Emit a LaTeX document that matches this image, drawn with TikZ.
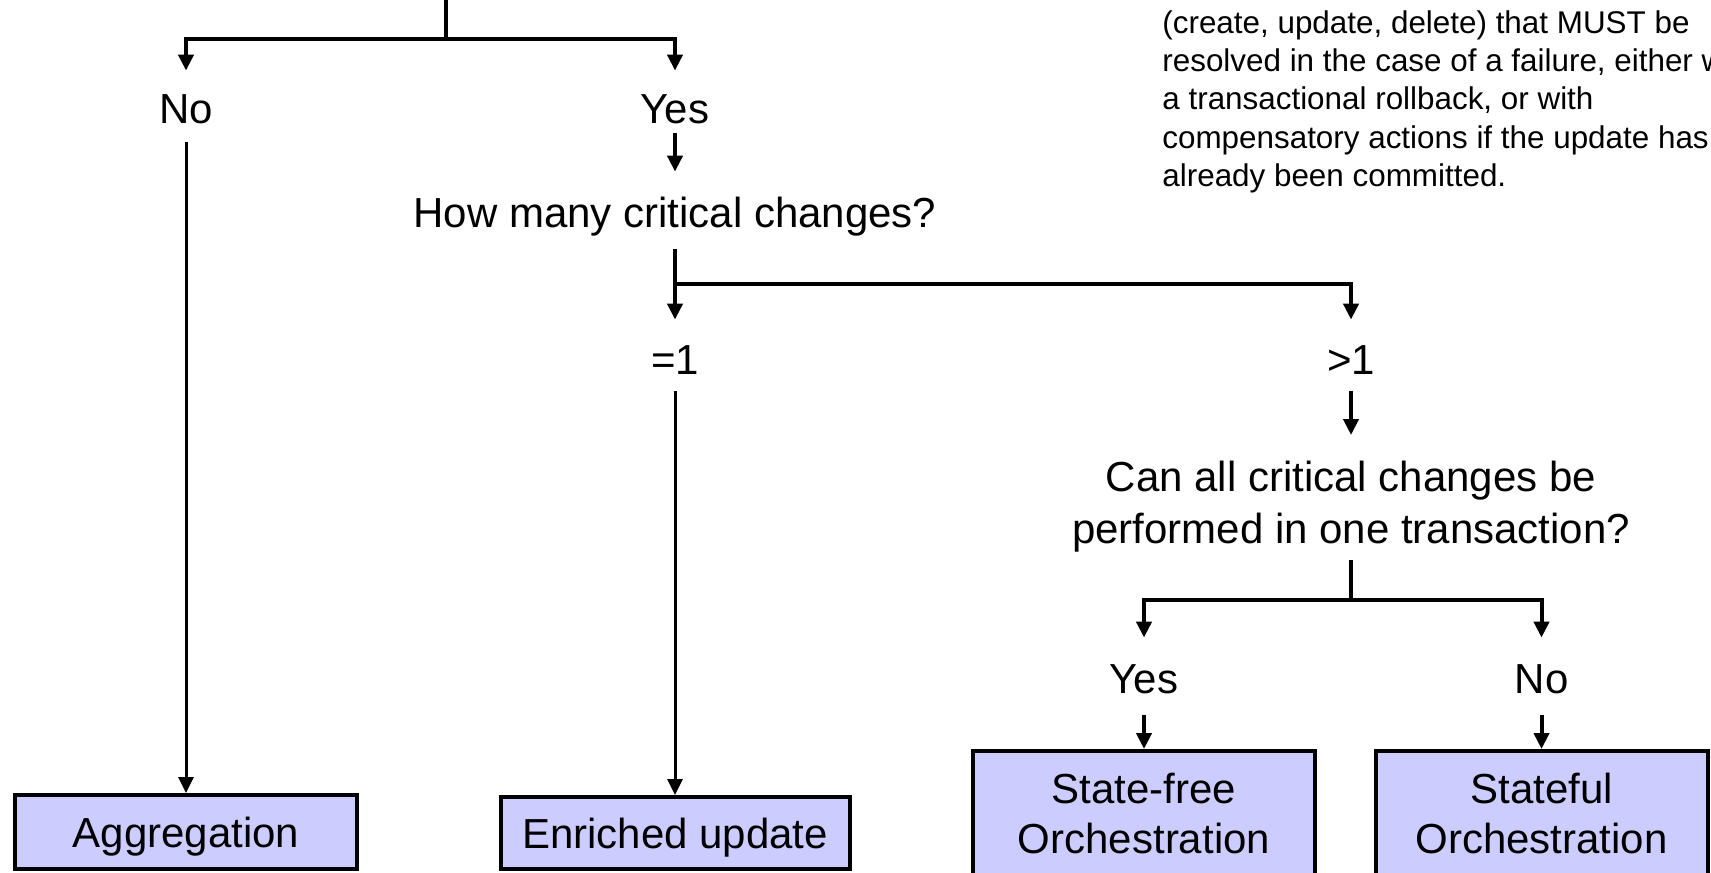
\documentclass[tikz,border=0pt]{standalone}
\usepackage{fontspec}
\setmainfont{Liberation Sans}
\usetikzlibrary{arrows.meta}
\definecolor{boxfill}{HTML}{CCCCFF}

\begin{document}
\begin{tikzpicture}[x=0.5pt,y=-0.5pt,
  lbl/.style={font=\fontsize{21}{26}\selectfont, inner sep=0pt, text height=15pt, text depth=4.4pt},
  quest/.style={font=\fontsize{21}{26}\selectfont, inner sep=0pt, align=center},
  box/.style={draw=black, line width=2pt, fill=boxfill, font=\fontsize{21}{25}\selectfont, align=center, inner sep=0pt},
  onebox/.style={box, text height=15pt, text depth=0pt},
  link/.style={line width=2pt},
  arr/.style={line width=2pt, -{Triangle[width=7.5pt,length=8pt]}},
  longarr/.style={arr, line width=1.5pt},
]
\useasboundingbox (0,0) rectangle (1711,872);
\clip (0,0) rectangle (1711,872);

% note text in the upper right corner
\node[anchor=north west, inner sep=0pt, align=left,
      font=\fontsize{15.7}{19.2}\selectfont] (note) at (1162,10)
  {(create, update, delete) that MUST be\\
   resolved in the case of a failure, either with\\
   a transactional rollback, or with\\
   compensatory actions if the update has\\
   already been committed.};

% decision labels
\node[lbl] (no1)  at (186,113) {No};
\node[lbl] (yes1) at (675,113) {Yes};
\node[lbl] (q2)   at (675,217) {How many critical changes?};
\node[lbl] (eq1)  at (675,364) {=1};
\node[lbl] (gt1)  at (1351,364) {>1};
\node[quest] (q3) at (1351,507) {Can all critical changes be\\performed in one transaction?};
\node[lbl] (yes2) at (1144,683) {Yes};
\node[lbl] (no2)  at (1541.5,683) {No};

% outcome boxes
\node[onebox, minimum width=171pt, minimum height=37pt] (agg) at (186,832) {Aggregation};
\node[onebox, minimum width=174.5pt, minimum height=36pt] (enr) at (675,833) {Enriched update};
\node[box, minimum width=171pt, minimum height=62pt] (sf) at (1144,813) {State-free\\Orchestration};
\node[box, minimum width=166pt, minimum height=62pt] (sfl) at (1541.5,813) {Stateful\\Orchestration};

% branch points
\coordinate (top) at (446,0);
\coordinate (j0) at (446,39);
\coordinate (j1) at (675,284);
\coordinate (j2) at (1351,600);

% connectors
\draw[link] (top) -- (j0);
\draw[arr, shorten >=11.3pt] (j0) -| (no1);
\draw[arr, shorten >=11.3pt] (j0) -| (yes1);
\draw[longarr, shorten <=4.8pt] (no1) -- (agg);
\draw[arr, shorten >=12.8pt] (yes1) -- (q2);
\draw[link, shorten <=6.3pt] (q2) -- (j1);
\draw[arr, shorten >=12.3pt] (j1) -| (eq1);
\draw[arr, shorten >=12.3pt] (j1) -| (gt1);
\draw[longarr, shorten <=3.8pt] (eq1) -- (enr);
\draw[arr, shorten <=3.8pt, shorten >=13pt] (gt1) -- (q3);
\draw[link, shorten <=3.5pt] (q3) -- (j2);
\draw[arr, shorten >=12.8pt] (j2) -| (yes2);
\draw[arr, shorten >=12.8pt] (j2) -| (no2);
\draw[arr, shorten <=6.3pt] (yes2) -- (sf);
\draw[arr, shorten <=6.3pt] (no2) -- (sfl);
\end{tikzpicture}
\end{document}
